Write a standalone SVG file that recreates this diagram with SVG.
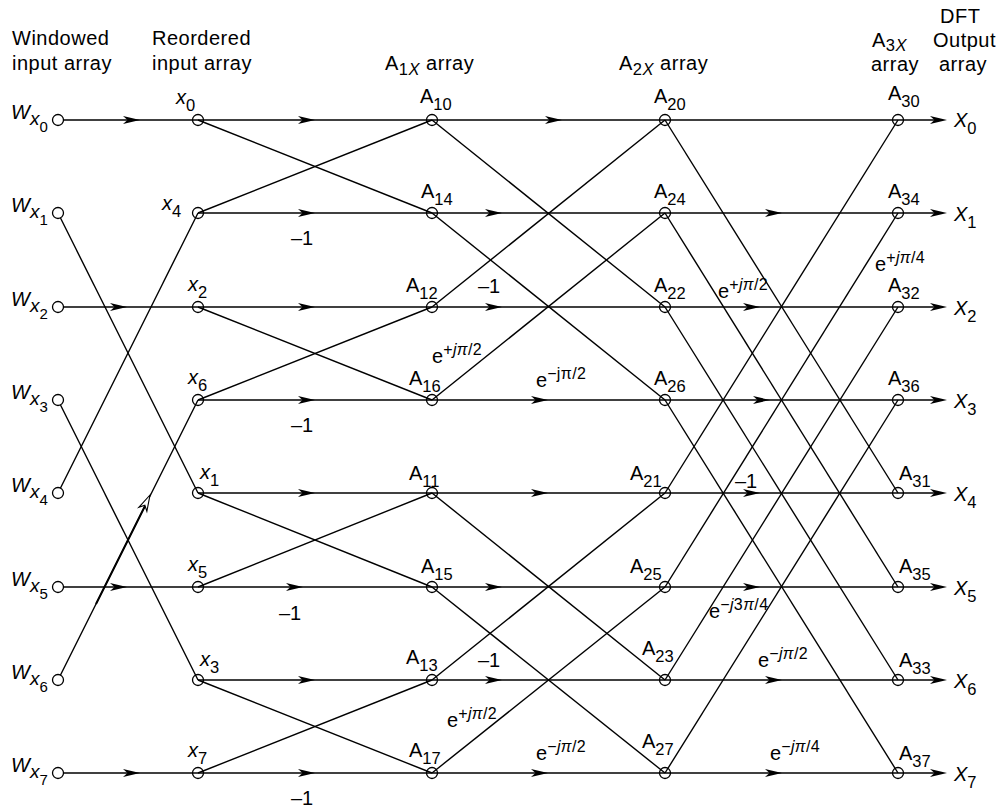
<svg xmlns="http://www.w3.org/2000/svg" xmlns:xlink="http://www.w3.org/1999/xlink" width="1002" height="812" viewBox="0 0 1002 812">
<style>
text{font-family:"Liberation Sans",Arial,Helvetica,sans-serif;font-size:20px;fill:#000}
.h{letter-spacing:0.5px}
.i{font-style:italic}
.n{font-style:normal}
.s{font-size:16.5px}
.sp{font-size:16px;letter-spacing:0.4px}
.ln{stroke:#000;stroke-width:1.4;fill:none}
.nd{fill:none;stroke:#000;stroke-width:1.3}
.wn{fill:#fff;stroke:#000;stroke-width:1.3}
.ah{fill:#000;stroke:none}
.ao{fill:#fff;stroke:#000;stroke-width:1.1}
</style>
<defs>
<path id="ah" class="ah" d="M0,0 L-17,-3.9 L-12.5,0 L-17,3.9 Z"/>
<path id="ao" class="ao" d="M0,0 L-16,-4.5 L-11.5,0 L-16,4.5 Z"/>
</defs>

<g id="headers">
<text class="h" x="12" y="45">Windowed</text>
<text class="h" x="12" y="70">input array</text>
<text class="h" x="152" y="45">Reordered</text>
<text class="h" x="152" y="70">input array</text>
<text class="h" x="385" y="70">A<tspan class="s" dy="5">1<tspan class="i">X</tspan></tspan><tspan dy="-5"> array</tspan></text>
<text class="h" x="619" y="70">A<tspan class="s" dy="5">2<tspan class="i">X</tspan></tspan><tspan dy="-5"> array</tspan></text>
<text class="h" x="872" y="47">A<tspan class="s" dy="4">3<tspan class="i">X</tspan></tspan></text>
<text class="h" x="871" y="71">array</text>
<text class="h" x="940" y="23">DFT</text>
<text class="h" x="933" y="47">Output</text>
<text class="h" x="939" y="71">array</text>
</g>

<g id="connectors">
<!-- stage 0 -->
<line class="ln" x1="58" y1="120" x2="198" y2="120"/>
<line class="ln" x1="58" y1="307" x2="198" y2="307"/>
<line class="ln" x1="58" y1="587" x2="198" y2="587"/>
<line class="ln" x1="58" y1="773" x2="198" y2="773"/>
<line class="ln" x1="58" y1="213" x2="198" y2="493"/>
<line class="ln" x1="58" y1="400" x2="198" y2="680"/>
<line class="ln" x1="58" y1="493" x2="198" y2="213"/>
<line class="ln" x1="58" y1="680" x2="198" y2="400"/>
<line class="ln" x1="96" y1="604" x2="145" y2="506" style="stroke-width:2"/>
<!-- stage 1 -->
<line class="ln" x1="198" y1="120" x2="432" y2="120"/>
<line class="ln" x1="198" y1="213" x2="432" y2="213"/>
<line class="ln" x1="198" y1="307" x2="432" y2="307"/>
<line class="ln" x1="198" y1="400" x2="432" y2="400"/>
<line class="ln" x1="198" y1="493" x2="432" y2="493"/>
<line class="ln" x1="198" y1="587" x2="432" y2="587"/>
<line class="ln" x1="198" y1="680" x2="432" y2="680"/>
<line class="ln" x1="198" y1="773" x2="432" y2="773"/>
<line class="ln" x1="198" y1="120" x2="432" y2="213"/>
<line class="ln" x1="198" y1="213" x2="432" y2="120"/>
<line class="ln" x1="198" y1="307" x2="432" y2="400"/>
<line class="ln" x1="198" y1="400" x2="432" y2="307"/>
<line class="ln" x1="198" y1="493" x2="432" y2="587"/>
<line class="ln" x1="198" y1="587" x2="432" y2="493"/>
<line class="ln" x1="198" y1="680" x2="432" y2="773"/>
<line class="ln" x1="198" y1="773" x2="432" y2="680"/>
<!-- stage 2 -->
<line class="ln" x1="432" y1="120" x2="665" y2="120"/>
<line class="ln" x1="432" y1="213" x2="665" y2="213"/>
<line class="ln" x1="432" y1="307" x2="665" y2="307"/>
<line class="ln" x1="432" y1="400" x2="665" y2="400"/>
<line class="ln" x1="432" y1="493" x2="665" y2="493"/>
<line class="ln" x1="432" y1="587" x2="665" y2="587"/>
<line class="ln" x1="432" y1="680" x2="665" y2="680"/>
<line class="ln" x1="432" y1="773" x2="665" y2="773"/>
<line class="ln" x1="432" y1="120" x2="665" y2="307"/>
<line class="ln" x1="432" y1="307" x2="665" y2="120"/>
<line class="ln" x1="432" y1="213" x2="665" y2="400"/>
<line class="ln" x1="432" y1="400" x2="665" y2="213"/>
<line class="ln" x1="432" y1="493" x2="665" y2="680"/>
<line class="ln" x1="432" y1="680" x2="665" y2="493"/>
<line class="ln" x1="432" y1="587" x2="665" y2="773"/>
<line class="ln" x1="432" y1="773" x2="665" y2="587"/>
<!-- stage 3 -->
<line class="ln" x1="665" y1="120" x2="898" y2="120"/>
<line class="ln" x1="665" y1="213" x2="898" y2="213"/>
<line class="ln" x1="665" y1="307" x2="898" y2="307"/>
<line class="ln" x1="665" y1="400" x2="898" y2="400"/>
<line class="ln" x1="665" y1="493" x2="898" y2="493"/>
<line class="ln" x1="665" y1="587" x2="898" y2="587"/>
<line class="ln" x1="665" y1="680" x2="898" y2="680"/>
<line class="ln" x1="665" y1="773" x2="898" y2="773"/>
<line class="ln" x1="665" y1="120" x2="898" y2="493"/>
<line class="ln" x1="665" y1="493" x2="898" y2="120"/>
<line class="ln" x1="665" y1="213" x2="898" y2="587"/>
<line class="ln" x1="665" y1="587" x2="898" y2="213"/>
<line class="ln" x1="665" y1="307" x2="898" y2="680"/>
<line class="ln" x1="665" y1="680" x2="898" y2="307"/>
<line class="ln" x1="665" y1="400" x2="898" y2="773"/>
<line class="ln" x1="665" y1="773" x2="898" y2="400"/>
<!-- outputs -->
<line class="ln" x1="898" y1="120" x2="936" y2="120"/>
<line class="ln" x1="898" y1="213" x2="936" y2="213"/>
<line class="ln" x1="898" y1="307" x2="936" y2="307"/>
<line class="ln" x1="898" y1="400" x2="936" y2="400"/>
<line class="ln" x1="898" y1="493" x2="936" y2="493"/>
<line class="ln" x1="898" y1="587" x2="936" y2="587"/>
<line class="ln" x1="898" y1="680" x2="936" y2="680"/>
<line class="ln" x1="898" y1="773" x2="936" y2="773"/>
<!-- arrowheads -->
<use xlink:href="#ah" x="140" y="120"/>
<use xlink:href="#ah" x="127" y="307"/>
<use xlink:href="#ah" x="127" y="587"/>
<use xlink:href="#ah" x="140" y="773"/>
<use xlink:href="#ao" transform="translate(150,495) rotate(-63.43)"/>
<use xlink:href="#ah" x="315" y="120"/>
<use xlink:href="#ah" x="315" y="213"/>
<use xlink:href="#ah" x="315" y="307"/>
<use xlink:href="#ah" x="315" y="400"/>
<use xlink:href="#ah" x="315" y="493"/>
<use xlink:href="#ah" x="303" y="587"/>
<use xlink:href="#ah" x="315" y="680"/>
<use xlink:href="#ah" x="315" y="773"/>
<use xlink:href="#ah" x="562" y="120"/>
<use xlink:href="#ah" x="502" y="213"/>
<use xlink:href="#ah" x="502" y="307"/>
<use xlink:href="#ah" x="548" y="400"/>
<use xlink:href="#ah" x="548" y="493"/>
<use xlink:href="#ah" x="502" y="587"/>
<use xlink:href="#ah" x="502" y="680"/>
<use xlink:href="#ah" x="548" y="773"/>
<use xlink:href="#ah" x="782" y="213"/>
<use xlink:href="#ah" x="760" y="307"/>
<use xlink:href="#ah" x="770" y="400"/>
<use xlink:href="#ah" x="760" y="493"/>
<use xlink:href="#ah" x="760" y="587"/>
<use xlink:href="#ah" x="782" y="680"/>
<use xlink:href="#ah" x="782" y="773"/>
<use xlink:href="#ah" x="947" y="120"/>
<use xlink:href="#ah" x="947" y="213"/>
<use xlink:href="#ah" x="947" y="307"/>
<use xlink:href="#ah" x="947" y="400"/>
<use xlink:href="#ah" x="947" y="493"/>
<use xlink:href="#ah" x="947" y="587"/>
<use xlink:href="#ah" x="947" y="680"/>
<use xlink:href="#ah" x="947" y="773"/>
</g>

<g id="edge-labels">
<text x="291" y="245">–1</text>
<text x="478" y="293">–1</text>
<text x="291" y="432">–1</text>
<text x="735" y="488">–1</text>
<text x="279" y="620">–1</text>
<text x="478" y="667">–1</text>
<text x="291" y="805">–1</text>
<text x="432" y="363">e<tspan class="sp" dy="-8">+<tspan class="i">jπ</tspan>/2</tspan></text>
<text x="536" y="387">e<tspan class="sp" dy="-8">−jπ/2</tspan></text>
<text x="718" y="298">e<tspan class="sp" dy="-8">+<tspan class="i">jπ</tspan>/2</tspan></text>
<text x="875" y="271">e<tspan class="sp" dy="-8">+<tspan class="i">jπ</tspan>/4</tspan></text>
<text x="709" y="618">e<tspan class="sp" dy="-8">−<tspan class="i">j</tspan>3<tspan class="i">π</tspan>/4</tspan></text>
<text x="758" y="667">e<tspan class="sp" dy="-8">−<tspan class="i">jπ</tspan>/2</tspan></text>
<text x="770" y="760">e<tspan class="sp" dy="-8">−<tspan class="i">jπ</tspan>/4</tspan></text>
<text x="447" y="727">e<tspan class="sp" dy="-8">+<tspan class="i">jπ</tspan>/2</tspan></text>
<text x="536" y="760">e<tspan class="sp" dy="-8">−<tspan class="i">jπ</tspan>/2</tspan></text>
</g>

<!-- windowed input nodes -->
<g id="Wx0"><circle class="wn" cx="58" cy="120" r="5.5"/><text class="i" x="11" y="119" font-size="21">W<tspan font-size="19" dy="6">x<tspan class="n" font-size="15" dy="7">0</tspan></tspan></text></g>
<g id="Wx1"><circle class="wn" cx="58" cy="213" r="5.5"/><text class="i" x="11" y="212" font-size="21">W<tspan font-size="19" dy="6">x<tspan class="n" font-size="15" dy="7">1</tspan></tspan></text></g>
<g id="Wx2"><circle class="wn" cx="58" cy="307" r="5.5"/><text class="i" x="11" y="306" font-size="21">W<tspan font-size="19" dy="6">x<tspan class="n" font-size="15" dy="7">2</tspan></tspan></text></g>
<g id="Wx3"><circle class="wn" cx="58" cy="400" r="5.5"/><text class="i" x="11" y="399" font-size="21">W<tspan font-size="19" dy="6">x<tspan class="n" font-size="15" dy="7">3</tspan></tspan></text></g>
<g id="Wx4"><circle class="wn" cx="58" cy="493" r="5.5"/><text class="i" x="11" y="492" font-size="21">W<tspan font-size="19" dy="6">x<tspan class="n" font-size="15" dy="7">4</tspan></tspan></text></g>
<g id="Wx5"><circle class="wn" cx="58" cy="587" r="5.5"/><text class="i" x="11" y="586" font-size="21">W<tspan font-size="19" dy="6">x<tspan class="n" font-size="15" dy="7">5</tspan></tspan></text></g>
<g id="Wx6"><circle class="wn" cx="58" cy="680" r="5.5"/><text class="i" x="11" y="679" font-size="21">W<tspan font-size="19" dy="6">x<tspan class="n" font-size="15" dy="7">6</tspan></tspan></text></g>
<g id="Wx7"><circle class="wn" cx="58" cy="773" r="5.5"/><text class="i" x="11" y="772" font-size="21">W<tspan font-size="19" dy="6">x<tspan class="n" font-size="15" dy="7">7</tspan></tspan></text></g>

<!-- reordered input nodes -->
<g id="x0"><circle class="nd" cx="198" cy="120" r="5.5"/><text class="i" x="176" y="104">x<tspan class="n s" dy="7">0</tspan></text></g>
<g id="x4"><circle class="nd" cx="198" cy="213" r="5.5"/><text class="i" x="162" y="210">x<tspan class="n s" dy="7">4</tspan></text></g>
<g id="x2"><circle class="nd" cx="198" cy="307" r="5.5"/><text class="i" x="188" y="291">x<tspan class="n s" dy="7">2</tspan></text></g>
<g id="x6"><circle class="nd" cx="198" cy="400" r="5.5"/><text class="i" x="188" y="384">x<tspan class="n s" dy="7">6</tspan></text></g>
<g id="x1"><circle class="nd" cx="198" cy="493" r="5.5"/><text class="i" x="200" y="479">x<tspan class="n s" dy="7">1</tspan></text></g>
<g id="x5"><circle class="nd" cx="198" cy="587" r="5.5"/><text class="i" x="188" y="571">x<tspan class="n s" dy="7">5</tspan></text></g>
<g id="x3"><circle class="nd" cx="198" cy="680" r="5.5"/><text class="i" x="200" y="666">x<tspan class="n s" dy="7">3</tspan></text></g>
<g id="x7"><circle class="nd" cx="198" cy="773" r="5.5"/><text class="i" x="188" y="757">x<tspan class="n s" dy="7">7</tspan></text></g>

<!-- A1 nodes -->
<g id="A10"><circle class="nd" cx="432" cy="120" r="5.5"/><text x="420" y="103">A<tspan class="s" dy="7">10</tspan></text></g>
<g id="A14"><circle class="nd" cx="432" cy="213" r="5.5"/><text x="421" y="198">A<tspan class="s" dy="7">14</tspan></text></g>
<g id="A12"><circle class="nd" cx="432" cy="307" r="5.5"/><text x="406" y="292">A<tspan class="s" dy="7">12</tspan></text></g>
<g id="A16"><circle class="nd" cx="432" cy="400" r="5.5"/><text x="409" y="385">A<tspan class="s" dy="7">16</tspan></text></g>
<g id="A11"><circle class="nd" cx="432" cy="493" r="5.5"/><text x="409" y="480">A<tspan class="s" dy="7">11</tspan></text></g>
<g id="A15"><circle class="nd" cx="432" cy="587" r="5.5"/><text x="421" y="573">A<tspan class="s" dy="7">15</tspan></text></g>
<g id="A13"><circle class="nd" cx="432" cy="680" r="5.5"/><text x="406" y="664">A<tspan class="s" dy="7">13</tspan></text></g>
<g id="A17"><circle class="nd" cx="432" cy="773" r="5.5"/><text x="409" y="757">A<tspan class="s" dy="7">17</tspan></text></g>

<!-- A2 nodes -->
<g id="A20"><circle class="nd" cx="665" cy="120" r="5.5"/><text x="654" y="103">A<tspan class="s" dy="7">20</tspan></text></g>
<g id="A24"><circle class="nd" cx="665" cy="213" r="5.5"/><text x="654" y="198">A<tspan class="s" dy="7">24</tspan></text></g>
<g id="A22"><circle class="nd" cx="665" cy="307" r="5.5"/><text x="654" y="292">A<tspan class="s" dy="7">22</tspan></text></g>
<g id="A26"><circle class="nd" cx="665" cy="400" r="5.5"/><text x="654" y="385">A<tspan class="s" dy="7">26</tspan></text></g>
<g id="A21"><circle class="nd" cx="665" cy="493" r="5.5"/><text x="630" y="480">A<tspan class="s" dy="7">21</tspan></text></g>
<g id="A25"><circle class="nd" cx="665" cy="587" r="5.5"/><text x="630" y="573">A<tspan class="s" dy="7">25</tspan></text></g>
<g id="A23"><circle class="nd" cx="665" cy="680" r="5.5"/><text x="642" y="655">A<tspan class="s" dy="7">23</tspan></text></g>
<g id="A27"><circle class="nd" cx="665" cy="773" r="5.5"/><text x="642" y="748">A<tspan class="s" dy="7">27</tspan></text></g>

<!-- A3 nodes -->
<g id="A30"><circle class="nd" cx="898" cy="120" r="5.5"/><text x="888" y="100">A<tspan class="s" dy="7">30</tspan></text></g>
<g id="A34"><circle class="nd" cx="898" cy="213" r="5.5"/><text x="888" y="198">A<tspan class="s" dy="7">34</tspan></text></g>
<g id="A32"><circle class="nd" cx="898" cy="307" r="5.5"/><text x="888" y="292">A<tspan class="s" dy="7">32</tspan></text></g>
<g id="A36"><circle class="nd" cx="898" cy="400" r="5.5"/><text x="888" y="385">A<tspan class="s" dy="7">36</tspan></text></g>
<g id="A31"><circle class="nd" cx="898" cy="493" r="5.5"/><text x="899" y="480">A<tspan class="s" dy="7">31</tspan></text></g>
<g id="A35"><circle class="nd" cx="898" cy="587" r="5.5"/><text x="899" y="573">A<tspan class="s" dy="7">35</tspan></text></g>
<g id="A33"><circle class="nd" cx="898" cy="680" r="5.5"/><text x="899" y="667">A<tspan class="s" dy="7">33</tspan></text></g>
<g id="A37"><circle class="nd" cx="898" cy="773" r="5.5"/><text x="899" y="760">A<tspan class="s" dy="7">37</tspan></text></g>

<!-- outputs -->
<g id="X0"><text class="i" x="954" y="127" font-size="21">X<tspan class="n s" dy="7">0</tspan></text></g>
<g id="X1"><text class="i" x="954" y="221" font-size="21">X<tspan class="n s" dy="7">1</tspan></text></g>
<g id="X2"><text class="i" x="954" y="315" font-size="21">X<tspan class="n s" dy="7">2</tspan></text></g>
<g id="X3"><text class="i" x="954" y="408" font-size="21">X<tspan class="n s" dy="7">3</tspan></text></g>
<g id="X4"><text class="i" x="954" y="501" font-size="21">X<tspan class="n s" dy="7">4</tspan></text></g>
<g id="X5"><text class="i" x="954" y="595" font-size="21">X<tspan class="n s" dy="7">5</tspan></text></g>
<g id="X6"><text class="i" x="954" y="688" font-size="21">X<tspan class="n s" dy="7">6</tspan></text></g>
<g id="X7"><text class="i" x="954" y="781" font-size="21">X<tspan class="n s" dy="7">7</tspan></text></g>
</svg>
